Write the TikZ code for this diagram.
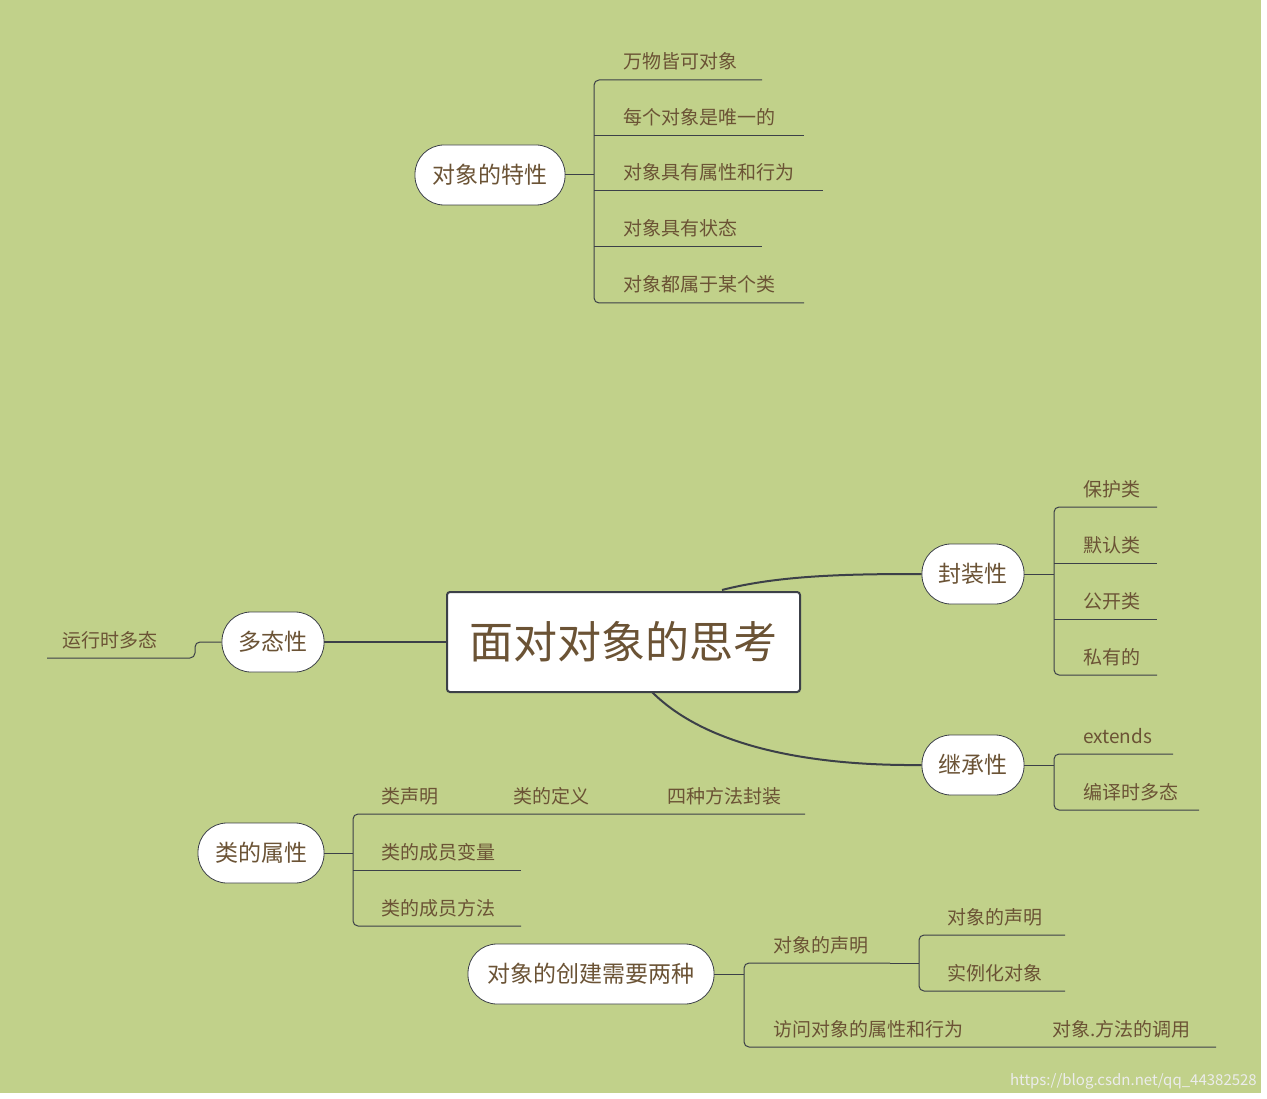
\documentclass[tikz,border=0pt]{standalone}
\usepackage{fontspec}
\setmainfont{Noto Sans CJK SC}
\definecolor{bg}{HTML}{C1D18A}
\definecolor{txt}{HTML}{6B5335}
\definecolor{ln}{HTML}{3C4048}
\tikzset{
 pill/.style={draw=ln,line width=0.8pt,fill=white,rounded corners=29pt,minimum height=60pt,text=txt,font=\fontsize{23}{26}\selectfont,inner sep=0pt},
 leaf/.style={anchor=base west,text=txt,font=\fontsize{19}{22}\selectfont,inner sep=0pt},
 br/.style={draw=ln,line width=1pt,rounded corners=5pt},
 ul/.style={draw=ln,line width=1pt},
}
\begin{document}
\begin{tikzpicture}[x=1pt,y=-1pt]
\fill[bg] (0,0) rectangle (1267,1099);
\fill[white] (1261,0) rectangle (1267,1099);
\fill[white] (0,1093) rectangle (1267,1099);
\useasboundingbox (0,0) rectangle (1267,1099);
% central
\node[draw=ln,line width=2pt,fill=white,rounded corners=3pt,minimum width=353pt,minimum height=100pt,text=txt,font=\fontsize{44}{48}\selectfont,inner sep=0pt] (c) at (623.5,642) {面对对象的思考};
\node[pill,minimum width=150pt] (tx) at (490,175) {对象的特性};
\node[pill,minimum width=102pt] (fz) at (973,574) {封装性};
\node[pill,minimum width=102pt] (dt) at (273,642) {多态性};
\node[pill,minimum width=102pt] (jc) at (973,765) {继承性};
\node[pill,minimum width=126pt] (sx) at (261,853) {类的属性};
\node[pill,minimum width=246pt] (cj) at (591,974) {对象的创建需要两种};
% main connectors
\coordinate (c1) at (722,590);
\coordinate (c2) at (652,692);
\draw[ln,line width=2pt] (c1) .. controls (780,575) and (850,574) .. (fz.west);
\draw[ln,line width=2pt] (c2) .. controls (710,750) and (820,766) .. (jc.west);
\draw[ln,line width=2pt] (c.west) -- (dt.east);
% 对象的特性
\draw[ul] (tx.east) -- (594,175);
\draw[br] (762,80) -- (594,80) -- (594,303) -- (804,303);
\draw[ul] (594,136) -- (804,136);
\draw[ul] (594,191) -- (823,191);
\draw[ul] (594,247) -- (762,247);
\node[leaf] (t1) at (623,69) {万物皆可对象};
\node[leaf] (t2) at (623,125) {每个对象是唯一的};
\node[leaf] (t3) at (623,180) {对象具有属性和行为};
\node[leaf] (t4) at (623,236) {对象具有状态};
\node[leaf] (t5) at (623,292) {对象都属于某个类};
% 封装性
\draw[ul] (fz.east) -- (1054,574);
\draw[br] (1157,507) -- (1054,507) -- (1054,675) -- (1157,675);
\draw[ul] (1054,563) -- (1157,563);
\draw[ul] (1054,619) -- (1157,619);
\node[leaf] (f1) at (1083,496) {保护类};
\node[leaf] (f2) at (1083,552) {默认类};
\node[leaf] (f3) at (1083,608) {公开类};
\node[leaf] (f4) at (1083,664) {私有的};
% 继承性
\draw[ul] (jc.east) -- (1054,765);
\draw[br] (1173,754) -- (1054,754) -- (1054,810) -- (1199,810);
\node[leaf] (j1) at (1083,743) {extends};
\node[leaf] (j2) at (1083,799) {编译时多态};
% 多态性
\draw[br] (dt.west) -- (195,642) -- (195,658) -- (47,658);
\node[leaf] (d1) at (62,647) {运行时多态};
% 类的属性
\draw[ul] (sx.east) -- (353,853);
\draw[br] (805,814) -- (353,814) -- (353,926) -- (521,926);
\draw[ul] (353,870) -- (521,870);
\node[leaf] (s1) at (381,803) {类声明};
\node[leaf] (s2) at (513,803) {类的定义};
\node[leaf] (s3) at (667,803) {四种方法封装};
\node[leaf] (s4) at (381,859) {类的成员变量};
\node[leaf] (s5) at (381,915) {类的成员方法};
% 对象的创建
\draw[ul] (cj.east) -- (744,974);
\draw[br] (890,963) -- (744,963) -- (744,1047) -- (1216,1047);
\node[leaf] (k1) at (773,952) {对象的声明};
\node[leaf] (k2) at (773,1036) {访问对象的属性和行为};
\node[leaf] (k3) at (1052,1036) {对象.方法的调用};
\draw[ul] (890,963) -- (919,963);
\draw[br] (1065,935) -- (919,935) -- (919,991) -- (1065,991);
\node[leaf] (k4) at (947,924) {对象的声明};
\node[leaf] (k5) at (947,980) {实例化对象};
\node[anchor=base east,text=white!85!gray,font=\fontsize{15}{18}\selectfont,inner sep=0pt] (wm) at (1257,1085) {https://blog.csdn.net/qq\_44382528};
\end{tikzpicture}
\end{document}
